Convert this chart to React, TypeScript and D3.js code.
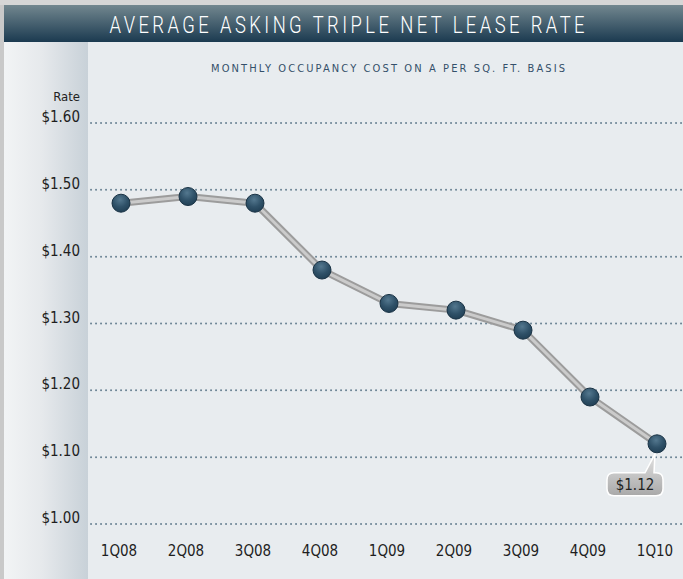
import React from "react";
import * as d3 from "d3";

const quarters = ["1Q08", "2Q08", "3Q08", "4Q08", "1Q09", "2Q09", "3Q09", "4Q09", "1Q10"];
const rates = [1.48, 1.49, 1.48, 1.38, 1.33, 1.32, 1.29, 1.19, 1.12];
const yTicks = [1.0, 1.1, 1.2, 1.3, 1.4, 1.5, 1.6];
const title = "AVERAGE ASKING TRIPLE NET LEASE RATE";
const subtitle = "MONTHLY OCCUPANCY COST ON A PER SQ. FT. BASIS";
const axisTitle = "Rate";
const calloutLabel = "$1.12";

const W = 683;
const H = 579;
const FONT = "'DejaVu Sans Condensed', 'Liberation Sans Narrow', Arial, sans-serif";

export default function App() {
  const x = d3.scalePoint<string>().domain(quarters).range([121, 657]);
  const y = d3.scaleLinear().domain([1.0, 1.6]).range([524, 123]);
  const line = d3
    .line<number>()
    .x((_, i) => x(quarters[i]) as number)
    .y((d) => y(d));
  const path = line(rates) || "";
  const lastX = x(quarters[quarters.length - 1]) as number;
  const lastY = y(rates[rates.length - 1]);
  const fmt = (v: number) => "$" + v.toFixed(2);

  const bx = lastX - 50;
  const by = lastY + 29;
  const bw = 56;
  const bh = 23;
  const rr = 7;
  const sx = 0.8;

  return (
    <svg width={W} height={H} style={{ position: "absolute", left: 0, top: 0, display: "block" }}>
      <defs>
        <linearGradient id="titleGrad" x1="0" y1="0" x2="0" y2="1">
          <stop offset="0" stopColor="#72878f" />
          <stop offset="1" stopColor="#1b3a50" />
        </linearGradient>
        <linearGradient id="stripGrad" x1="0" y1="0" x2="1" y2="0">
          <stop offset="0" stopColor="#f2f4f5" />
          <stop offset="0.45" stopColor="#e6e9ec" />
          <stop offset="1" stopColor="#c8d1d8" />
        </linearGradient>
        <radialGradient id="dotGrad" cx="0.45" cy="0.3" r="0.75">
          <stop offset="0" stopColor="#54788f" />
          <stop offset="0.55" stopColor="#2f5168" />
          <stop offset="1" stopColor="#1f3d52" />
        </radialGradient>
        <linearGradient id="calloutGrad" x1="0" y1="0" x2="0" y2="1">
          <stop offset="0" stopColor="#e2e2e2" />
          <stop offset="1" stopColor="#a9a9a9" />
        </linearGradient>
      </defs>
      <rect x={0} y={0} width={W} height={H} fill="#c9c9c9" />
      <rect x={0} y={0} width={W} height={5} fill="#d6d6d6" />
      <rect x={4} y={5} width={W - 4} height={H - 5} fill="#e8ecef" />
      <rect x={4} y={42} width={84} height={H - 42} fill="url(#stripGrad)" />
      <rect x={4} y={5} width={W - 4} height={37} fill="url(#titleGrad)" />
      <g transform={`scale(${sx},1)`}>
        <text
          x={347 / sx}
          y={33}
          textAnchor="middle"
          fill="#ffffff"
          fontFamily="Roboto, 'Open Sans', sans-serif"
          fontWeight={300}
          fontSize={23}
          textLength={475 / sx}
          lengthAdjust="spacing"
        >
          {title}
        </text>
      </g>
      <text
        x={388}
        y={72}
        textAnchor="middle"
        fill="#34506a"
        fontFamily={FONT}
        fontSize={11}
        textLength={354}
        lengthAdjust="spacing"
      >
        {subtitle}
      </text>
      <text x={80} y={101} textAnchor="end" fill="#222" fontFamily={FONT} fontSize={13}>
        {axisTitle}
      </text>
      {yTicks.map((t) => (
        <g key={t}>
          <line
            x1={91}
            x2={W}
            y1={y(t)}
            y2={y(t)}
            stroke="#6f8797"
            strokeWidth={2}
            strokeDasharray="0.1 4.9"
            strokeLinecap="round"
          />
          <text x={80} y={y(t) - 1} textAnchor="end" fill="#1e1e1e" fontFamily={FONT} fontSize={15}>
            {fmt(t)}
          </text>
        </g>
      ))}
      {quarters.map((q) => (
        <text key={q} x={(x(q) as number) - 2} y={556} textAnchor="middle" fill="#1e1e1e" fontFamily={FONT} fontSize={15}>
          {q}
        </text>
      ))}
      <path d={path} fill="none" stroke="#9c9c9c" strokeWidth={7} strokeLinejoin="round" />
      <path d={path} fill="none" stroke="#cbcbcb" strokeWidth={3} strokeLinejoin="round" />
      {rates.map((r, i) => (
        <circle
          key={i}
          cx={x(quarters[i]) as number}
          cy={y(r)}
          r={9}
          fill="url(#dotGrad)"
          stroke="#1a3345"
          strokeWidth={1}
        />
      ))}
      <path
        d={`M${bx + rr},${by} L${bx + 38},${by} L${lastX - 2},${lastY + 10} L${bx + 47},${by} L${bx + bw - rr},${by} Q${bx + bw},${by} ${bx + bw},${by + rr} L${bx + bw},${by + bh - rr} Q${bx + bw},${by + bh} ${bx + bw - rr},${by + bh} L${bx + rr},${by + bh} Q${bx},${by + bh} ${bx},${by + bh - rr} L${bx},${by + rr} Q${bx},${by} ${bx + rr},${by} Z`}
        fill="url(#calloutGrad)"
        stroke="#ffffff"
        strokeWidth={1.5}
      />
      <text x={bx + bw / 2} y={by + 17} textAnchor="middle" fill="#222" fontFamily={FONT} fontSize={15}>
        {calloutLabel}
      </text>
    </svg>
  );
}
